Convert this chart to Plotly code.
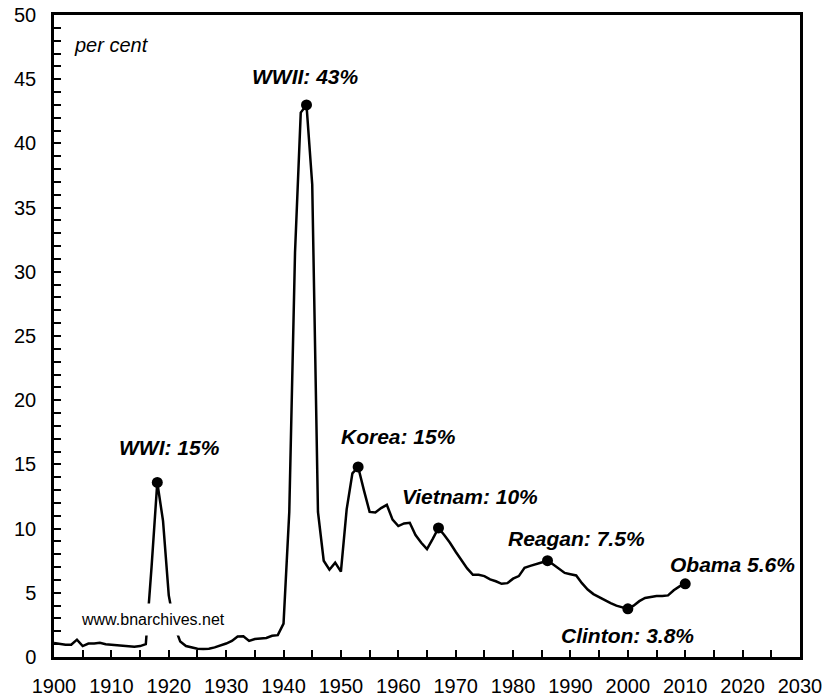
import plotly.graph_objects as go

years = list(range(1900, 2011))
values = [
    1.1, 1.0, 0.95, 0.95, 1.35, 0.85, 1.05, 1.05, 1.1, 1.0,      # 1900-1909
    0.95, 0.9, 0.85, 0.8, 0.8, 0.85, 1.0, 7.0, 13.6, 10.6,       # 1910-1919
    4.8, 2.4, 1.2, 0.85, 0.72, 0.65, 0.62, 0.65, 0.75, 0.88,     # 1920-1929
    1.05, 1.25, 1.6, 1.62, 1.25, 1.4, 1.45, 1.48, 1.65, 1.7,     # 1930-1939
    2.6, 11.3, 31.5, 42.4, 43.0, 36.8, 11.3, 7.5, 6.8, 7.35,     # 1940-1949
    6.65, 11.5, 14.3, 14.8, 13.0, 11.3, 11.25, 11.6, 11.85, 10.7,  # 1950-1959
    10.2, 10.4, 10.45, 9.5, 8.9, 8.4, 9.2, 10.05, 9.5, 8.9,      # 1960-1969
    8.2, 7.5, 6.9, 6.4, 6.4, 6.3, 6.05, 5.9, 5.7, 5.75,          # 1970-1979
    6.1, 6.3, 6.95, 7.1, 7.25, 7.35, 7.5, 7.2, 6.85, 6.55,       # 1980-1989
    6.45, 6.35, 5.75, 5.25, 4.9, 4.65, 4.45, 4.2, 4.0, 3.85,     # 1990-1999
    3.75, 4.0, 4.35, 4.6, 4.7, 4.75, 4.75, 4.8, 5.2, 5.5,        # 2000-2009
    5.7,                                                          # 2010
]

marked_years = [1918, 1944, 1953, 1967, 1986, 2000, 2010]
marked_values = [values[years.index(y)] for y in marked_years]

# label text and label anchor (in data units)
label_texts = ["WWI: 15%", "WWII: 43%", "Korea: 15%", "Vietnam: 10%",
               "Reagan: 7.5%", "Clinton: 3.8%", "Obama 5.6%"]
label_x = [1920.2, 1943.7, 1960.0, 1972.5, 1991.0, 2000.0, 2018.3]
label_y = [16.3, 45.2, 17.2, 12.5, 9.2, 1.65, 7.2]

FONT = "Liberation Sans, Arial, sans-serif"

fig = go.Figure()
fig.add_trace(go.Scatter(x=years, y=values, mode="lines",
                         line=dict(color="black", width=2.5),
                         hoverinfo="skip", showlegend=False))
fig.add_trace(go.Scatter(x=marked_years, y=marked_values, mode="markers",
                         marker=dict(color="black", size=11),
                         hoverinfo="skip", showlegend=False))

annotations = []
for t, x, y in zip(label_texts, label_x, label_y):
    annotations.append(dict(x=x, y=y, xref="x", yref="y", text="<b><i>" + t + "</i></b>",
                            showarrow=False, font=dict(family=FONT, size=21, color="black")))
annotations.append(dict(x=1910.1, y=47.66, xref="x", yref="y", text="<i>per cent</i>",
                        showarrow=False, font=dict(family=FONT, size=20, color="black")))
annotations.append(dict(x=1917.25, y=2.9, xref="x", yref="y", text="www.bnarchives.net",
                        showarrow=False, bgcolor="white", borderpad=7,
                        font=dict(family=FONT, size=16, color="black")))

fig.update_layout(
    width=827, height=700,
    margin=dict(l=54, r=27, t=15, b=43),
    paper_bgcolor="white", plot_bgcolor="white",
    font=dict(family=FONT, size=20, color="black"),
    annotations=annotations,
    showlegend=False,
)
fig.update_xaxes(range=[1900, 2030], dtick=10, tick0=1900, automargin=False,
                 showgrid=False, zeroline=False,
                 showline=True, linecolor="black", linewidth=2.5, mirror=True,
                 ticks="inside", ticklen=7, tickwidth=2, tickcolor="black",
                 minor=dict(dtick=5, ticks="inside", ticklen=7, tickwidth=2, tickcolor="black"),
                 ticklabelstandoff=9,
                 tickfont=dict(family=FONT, size=20, color="black"))
fig.update_yaxes(range=[0, 50], dtick=5, tick0=0, automargin=False,
                 showgrid=False, zeroline=False,
                 showline=True, linecolor="black", linewidth=2.5, mirror=True,
                 ticks="inside", ticklen=7, tickwidth=2, tickcolor="black",
                 minor=dict(dtick=1, ticks="inside", ticklen=7, tickwidth=2, tickcolor="black"),
                 ticklabelstandoff=11,
                 tickfont=dict(family=FONT, size=20, color="black"))

fig.write_html("out.html", config={"displayModeBar": False},
               post_script="document.body.style.margin='0';")
